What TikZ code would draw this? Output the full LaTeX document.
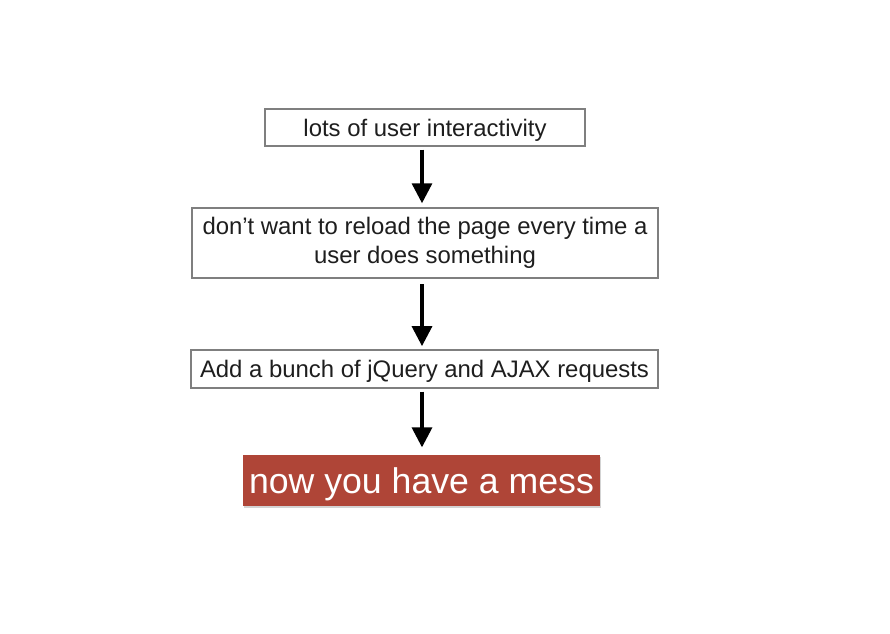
\documentclass[tikz,border=0pt]{standalone}
\usepackage{fontspec}
\setmainfont{Liberation Sans}
\usetikzlibrary{arrows.meta,shadows}

\definecolor{boxgray}{HTML}{7F7F7F}
\definecolor{messred}{HTML}{AF4537}
\definecolor{txtdark}{HTML}{1E1E1E}

\tikzset{
  stepbox/.style={draw=boxgray, line width=1.1pt, fill=white, text=txtdark,
    inner sep=0pt, align=center, font=\fontsize{13.6}{16.4}\selectfont},
  oneline/.style={text depth=0pt},
  messbox/.style={fill=messred, text=white, inner sep=0pt, text depth=0pt,
    font=\fontsize{20.3}{24}\selectfont,
    drop shadow={shadow xshift=0.4pt, shadow yshift=-1.2pt, opacity=0.35}},
  flow/.style={-{Triangle[length=11.5pt,width=11pt]}, line width=2.8pt, black}
}

\begin{document}
\begin{tikzpicture}[x=0.02cm, y=-0.02cm]
  %--- Rahmen (Bildgroesse in px)
  \useasboundingbox (0,0) rectangle (890,634);

  %--- Kaesten
  \node[stepbox, oneline, minimum width=6.4cm, minimum height=0.74cm] (interact) at (425,127.5)
    {lots of user interactivity};
  \node[stepbox, minimum width=9.32cm, minimum height=1.4cm] (noreload) at (425,243)
    {don’t want to reload the page every time a\\user does something};
  \node[stepbox, oneline, minimum width=9.34cm, minimum height=0.76cm] (jquery) at (424.5,369)
    {Add a bunch of jQuery and AJAX requests};
  \node[messbox, minimum width=7.14cm, minimum height=1.02cm] (mess) at (421.5,480.5)
    {now you have a mess};

  %--- Pfeile
  \coordinate (col) at (422,0);
  \draw[flow, shorten <=1.5pt, shorten >=2pt] (interact.south -| col) -- (noreload.north -| col);
  \draw[flow, shorten <=3pt, shorten >=1.5pt] (noreload.south -| col) -- (jquery.north -| col);
  \draw[flow, shorten <=1.5pt, shorten >=4pt] (jquery.south -| col) -- (mess.north -| col);
\end{tikzpicture}
\end{document}
